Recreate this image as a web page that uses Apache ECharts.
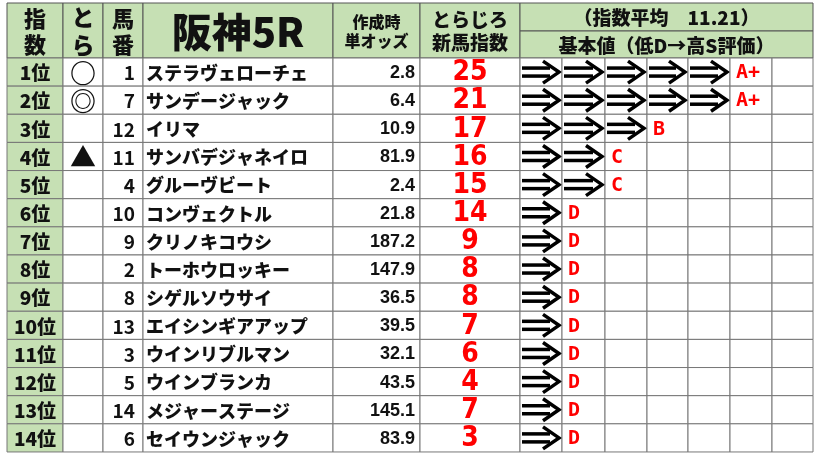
<!DOCTYPE html>
<html><head><meta charset="utf-8">
<script src="https://cdn.jsdelivr.net/npm/echarts@6/dist/echarts.min.js"></script>
<style>html,body{margin:0;padding:0;background:#fff}#c{width:817px;height:457px}</style>
</head><body><div id="c"></div>
<script>
const title = '阪神5R';
const avgLabel = '（指数平均　11.21）';
const gradeLabel = '基本値（低D→高S評価）';
const ranks = ['1位','2位','3位','4位','5位','6位','7位','8位','9位','10位','11位','12位','13位','14位'];
const marks = ['○','◎','','▲','','','','','','','','','',''];
const horseNums = [1,7,12,11,4,10,9,2,8,13,3,5,14,6];
const names = ['ステラヴェローチェ','サンデージャック','イリマ','サンバデジャネイロ','グルーヴビート','コンヴェクトル','クリノキコウシ','トーホウロッキー','シゲルソウサイ','エイシンギアアップ','ウインリブルマン','ウインブランカ','メジャーステージ','セイウンジャック'];
const odds = ['2.8','6.4','10.9','81.9','2.4','21.8','187.2','147.9','36.5','39.5','32.1','43.5','145.1','83.9'];
const scores = [25,21,17,16,15,14,9,8,8,7,6,4,7,3];
const arrows = [5,5,3,2,2,1,1,1,1,1,1,1,1,1];
const grades = ['A+','A+','B','C','C','D','D','D','D','D','D','D','D','D'];

// layout
const colX = [7,63,103,143,333,420,520,562,605,647,688,730,772,813];
const headTop = 3, headMid = 31, headBot = 58, rowH = 28.14;
const GREEN = '#c6e0b4';
const JP = '"Noto Sans CJK JP", sans-serif';

const cells = [];
ranks.forEach((r,i)=>{
  cells.push([0,i,r,'rank']);
  cells.push([1,i,marks[i],'mark']);
  cells.push([2,i,String(horseNums[i]),'num']);
  cells.push([3,i,names[i],'name']);
  cells.push([4,i,odds[i],'odds']);
  cells.push([5,i,String(scores[i]),'score']);
  for(let k=0;k<7;k++){
    let t='', kind='empty';
    if(k<arrows[i]){kind='arrow';}
    else if(k===arrows[i]){t=grades[i];kind='grade';}
    cells.push([6+k,i,t,kind]);
  }
});
const heads = [
  [0,1,headTop,headBot,'指\n数',22],
  [1,2,headTop,headBot,'と\nら',23],
  [2,3,headTop,headBot,'馬\n番',22],
  [3,4,headTop,headBot,title,40],
  [4,5,headTop,headBot,'作成時\n単オッズ',16],
  [5,6,headTop,headBot,'とらじろ\n新馬指数',19],
  [6,13,headTop,headMid,avgLabel,19],
  [6,13,headMid,headBot,gradeLabel,19]
];

const chart = echarts.init(document.getElementById('c'));
chart.setOption({
  animation:false,
  grid:{left:0,right:0,top:0,bottom:0},
  xAxis:{type:'value',min:0,max:817,show:false},
  yAxis:{type:'value',min:0,max:457,inverse:true,show:false},
  series:[
  {
    type:'custom',
    data:heads,
    renderItem:(p,api)=>{
      const d=heads[p.dataIndex];
      const a=api.coord([colX[d[0]],d[2]]), b=api.coord([colX[d[1]],d[3]]);
      return {type:'group',children:[
        {type:'rect',shape:{x:a[0],y:a[1],width:b[0]-a[0],height:b[1]-a[1]},style:{fill:GREEN,stroke:'#555',lineWidth:1}},
        {type:'text',style:{x:(a[0]+b[0])/2,y:(a[1]+b[1])/2+1,text:d[4],align:'center',verticalAlign:'middle',
          font:'900 '+d[5]+'px '+JP,lineHeight:d[5]*1.2,fill:'#111'}}
      ]};
    }
  },
  {
    type:'custom',
    data:cells,
    renderItem:(p,api)=>{
      const d=cells[p.dataIndex];
      const c=d[0], r=d[1], t=d[2], kind=d[3];
      const a=api.coord([colX[c],headBot+r*rowH]), b=api.coord([colX[c+1],headBot+(r+1)*rowH]);
      const w=b[0]-a[0], h=b[1]-a[1], cx=(a[0]+b[0])/2, cy=(a[1]+b[1])/2;
      const ch=[{type:'rect',shape:{x:a[0],y:a[1],width:w,height:h},style:{fill:kind==='rank'?GREEN:'#fff',stroke:'#777',lineWidth:1}}];
      const txt=(s,opt)=>ch.push({type:'text',style:Object.assign({text:s,y:cy+1,verticalAlign:'middle',fill:'#111'},opt)});
      if(kind==='rank') txt(t,{x:cx,align:'center',font:'900 19px '+JP});
      else if(kind==='mark') txt(t,{x:cx,align:'center',font:'900 26px '+JP});
      else if(kind==='num') txt(t,{x:b[0]-8,align:'right',font:'bold 19px '+JP});
      else if(kind==='name') txt(t,{x:a[0]+3,align:'left',font:'900 18px '+JP});
      else if(kind==='odds') txt(t,{x:b[0]-5,align:'right',font:'bold 18px "Liberation Sans", sans-serif'});
      else if(kind==='score') txt(t,{x:cx,align:'center',font:'bold 28px "DejaVu Sans Condensed", sans-serif',fill:'#ff0000'});
      else if(kind==='grade') txt(t,{x:a[0]+6,align:'left',font:'bold 20px "DejaVu Sans Mono", monospace',fill:'#ff0000'});
      else if(kind==='arrow'){
        const x0=a[0]+2, x1=b[0]-3, tip=x1, ax=x1-12;
        ch.push({type:'polyline',shape:{points:[[x0,cy-4],[ax+3,cy-4]]},style:{stroke:'#000',lineWidth:3.5}});
        ch.push({type:'polyline',shape:{points:[[x0,cy+4],[ax+3,cy+4]]},style:{stroke:'#000',lineWidth:3.5}});
        ch.push({type:'polyline',shape:{points:[[ax-4,cy-11],[tip,cy],[ax-4,cy+11]]},style:{stroke:'#000',lineWidth:3.5,fill:null}});
      }
      return {type:'group',children:ch};
    }
  }]
});
</script></body></html>
